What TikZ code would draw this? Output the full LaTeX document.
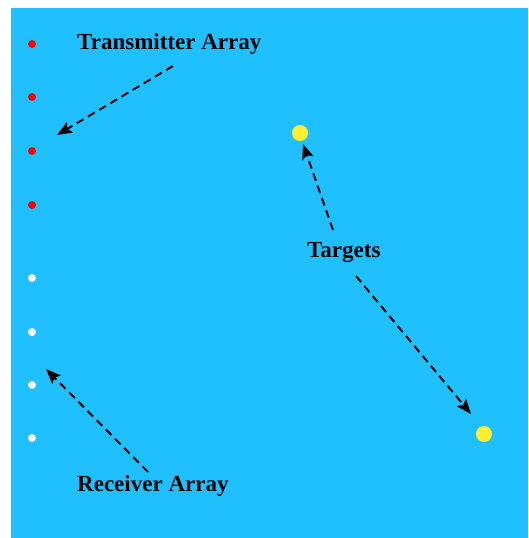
\documentclass[tikz,border=0pt]{standalone}
\usepackage{fontspec}
\setmainfont{Liberation Serif}
\usetikzlibrary{arrows.meta}
\definecolor{bgblue}{RGB}{32,192,255}
\definecolor{tgtyellow}{RGB}{255,240,50}
\tikzset{
  txdot/.style={circle,fill=red,inner sep=0pt,minimum size=8pt},
  rxdot/.style={circle,fill=white,inner sep=0pt,minimum size=8pt},
  tgt/.style={circle,fill=tgtyellow,inner sep=0pt,minimum size=16pt},
  lbl/.style={font=\fontsize{23}{27}\selectfont\bfseries,text=black,inner sep=0pt},
  ptr/.style={draw=black,line width=2pt,dash pattern=on 8pt off 5pt,-{Stealth[length=15pt,width=12pt,inset=3pt]}},
}
\begin{document}
\begin{tikzpicture}[x=1pt,y=-1pt]
\useasboundingbox (0,0) rectangle (528,538);
\fill[bgblue] (11,8) rectangle (528,538);
\foreach \i/\y in {1/44,2/97,3/151,4/205}{\node[txdot] (t\i) at (32,\y) {};}
\foreach \i/\y in {1/278,2/332,3/385,4/438}{\node[rxdot] (r\i) at (32,\y) {};}
\node[tgt] (g1) at (300,133) {};
\node[tgt] (g2) at (484,434) {};
\node[lbl,anchor=west] (ltx) at (77,44) {Transmitter Array};
\node[lbl,anchor=west] (lrx) at (77,486) {Receiver Array};
\node[lbl,anchor=west] (ltg) at (307,253) {Targets};
\coordinate (a1s) at (173,66);
\coordinate (a1e) at (57,135);
\coordinate (a2s) at (148,472);
\coordinate (a2e) at (46,369);
\coordinate (a3s) at (333,230);
\coordinate (a3e) at (303,144);
\coordinate (a4s) at (356,276);
\coordinate (a4e) at (471,414);
\draw[ptr] (a1s) -- (a1e);
\draw[ptr] (a2s) -- (a2e);
\draw[ptr] (a3s) -- (a3e);
\draw[ptr] (a4s) -- (a4e);
\end{tikzpicture}
\end{document}
